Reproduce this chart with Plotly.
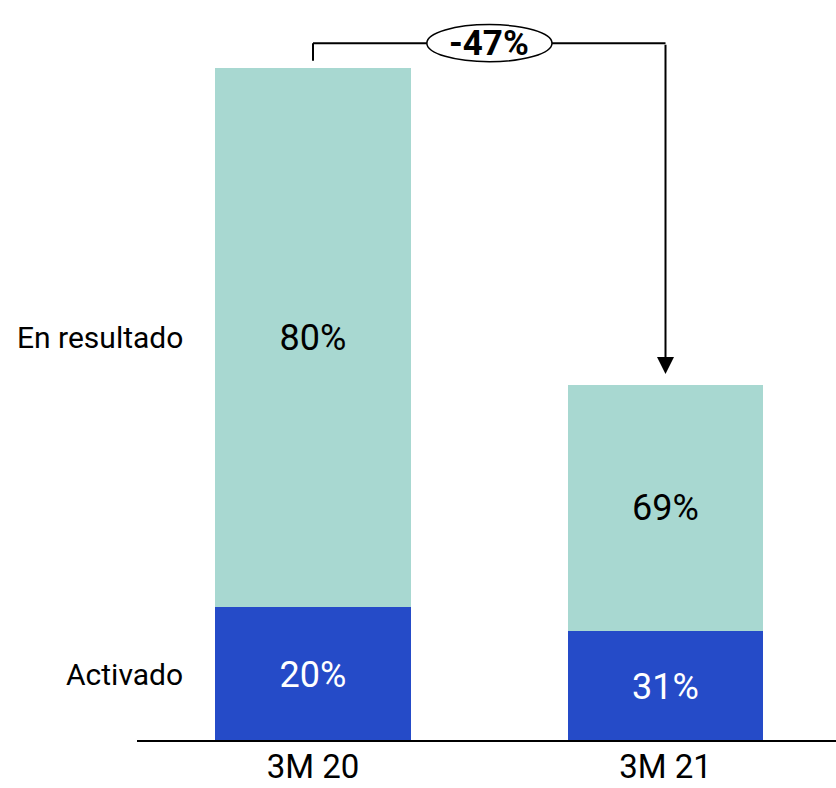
import plotly.graph_objects as go

categories = ["3M 20", "3M 21"]
activado = [20.0, 16.4]
en_resultado = [80.0, 36.6]
activado_labels = ["20%", "31%"]
resultado_labels = ["80%", "69%"]
series_names = ["Activado", "En resultado"]
change_label = "-47%"

TEAL = "#A8D8D1"
BLUE = "#254BC8"
FONT = "Roboto"

x = [0, 1]
totals = [a + r for a, r in zip(activado, en_resultado)]
XR = [-0.4993, 1.4837]

fig = go.Figure()
fig.add_trace(go.Bar(
    x=x, y=activado, name=series_names[0], marker=dict(color=BLUE, line=dict(width=0)),
    width=0.556, text=activado_labels, textposition="inside", insidetextanchor="middle",
    textfont=dict(color="white", size=36, family=FONT), hoverinfo="skip", textangle=0,
))
fig.add_trace(go.Bar(
    x=x, y=en_resultado, name=series_names[1], marker=dict(color=TEAL, line=dict(width=0)),
    width=0.556, text=resultado_labels, textposition="inside", insidetextanchor="middle",
    textfont=dict(color="black", size=36, family=FONT), hoverinfo="skip", textangle=0,
))

# left series labels
fig.add_annotation(x=-0.363, y=activado[0] / 2, xref="x", yref="y", text=series_names[0],
                   showarrow=False, xanchor="right", yanchor="middle",
                   font=dict(size=30, color="black", family=FONT))
fig.add_annotation(x=-0.363, y=activado[0] + en_resultado[0] / 2, xref="x", yref="y",
                   text=series_names[1], showarrow=False, xanchor="right", yanchor="middle",
                   font=dict(size=30, color="black", family=FONT))

# bracket connector
bracket_y = totals[0] + 3.7
lw = 2
fig.add_shape(type="line", xref="x", yref="y", x0=x[0], x1=x[0], y0=totals[0] + 1.1, y1=bracket_y,
              line=dict(color="black", width=lw))
fig.add_shape(type="line", xref="x", yref="y", x0=x[0], x1=x[1], y0=bracket_y, y1=bracket_y,
              line=dict(color="black", width=lw))
fig.add_annotation(x=x[1], y=totals[1] + 1.6, ax=x[1], ay=bracket_y, xref="x", yref="y",
                   axref="x", ayref="y", showarrow=True, arrowhead=2, arrowsize=1.7,
                   arrowwidth=lw, arrowcolor="black", text="")
fig.add_shape(type="circle", xref="x", yref="y", x0=0.323, x1=0.678,
              y0=bracket_y - 2.75, y1=bracket_y + 2.75,
              line=dict(color="black", width=1.5), fillcolor="white", layer="above")
fig.add_annotation(x=(x[0] + x[1]) / 2, y=bracket_y, xref="x", yref="y",
                   text="<b>" + change_label + "</b>",
                   showarrow=False, font=dict(size=35, color="black", family=FONT),
                   xanchor="center", yanchor="middle")

fig.update_layout(
    barmode="stack",
    width=836, height=788,
    margin=dict(l=137, r=0, t=0, b=46, pad=0),
    plot_bgcolor="white", paper_bgcolor="white",
    showlegend=False,
    font=dict(family=FONT, color="black"),
    xaxis=dict(range=XR, tickmode="array", tickvals=x, ticktext=categories,
               showgrid=False, zeroline=False, showline=False, ticks="",
               ticklabelstandoff=2, automargin=False,
               tickfont=dict(size=33, family=FONT, color="black")),
    yaxis=dict(range=[0, 110.1], visible=False, showgrid=False, zeroline=False,
               automargin=False),
)
fig.add_shape(type="line", xref="x", yref="y", x0=XR[0], x1=XR[1], y0=0, y1=0,
              line=dict(color="black", width=4), layer="above")

fig.write_html("out.html")
